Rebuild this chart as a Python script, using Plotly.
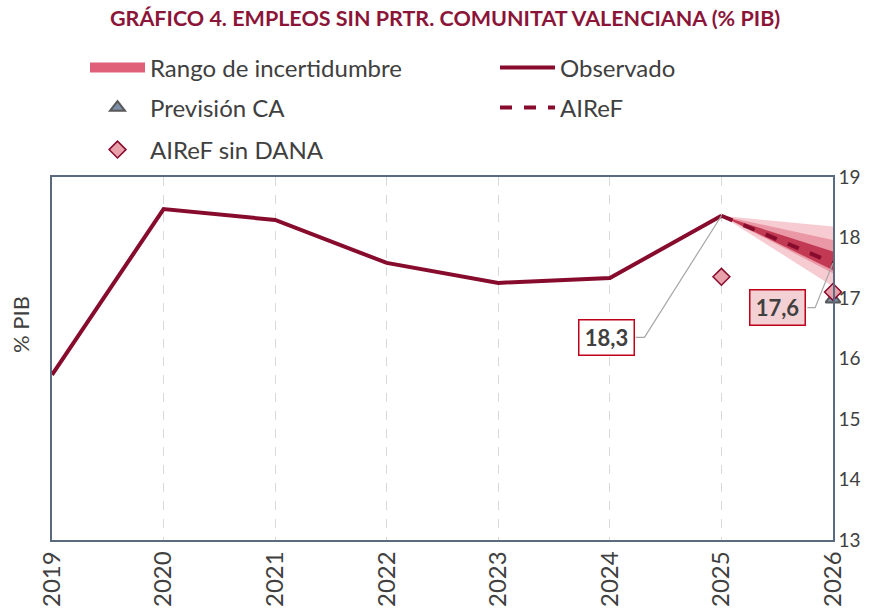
import plotly.graph_objects as go

years = [2019, 2020, 2021, 2022, 2023, 2024, 2025]
observado = [15.73, 18.47, 18.29, 17.58, 17.25, 17.33, 18.36]

airef_x = [2025, 2026]
airef = [18.36, 17.58]

# uncertainty bands at 2026 (start from 2025 observed)
band_outer = (17.19, 18.18)
band_mid = (17.41, 17.96)
band_inner = (17.46, 17.77)

prevision_x = [2026]
prevision = [16.98]

sin_dana_x = [2025, 2026]
sin_dana = [17.35, 17.1]

tick_years = list(range(2019, 2027))

dark_red = "#870b2d"
font_fam = "Lato, 'Open Sans', sans-serif"
txt = "#404040"

fig = go.Figure()

band_colors = ["rgba(240,170,180,0.6)", "rgba(225,110,130,0.55)", "rgba(180,25,55,0.75)"]
for (lo, hi), col in zip([band_outer, band_mid, band_inner], band_colors):
    fig.add_trace(go.Scatter(
        x=[2025, 2026, 2026, 2025], y=[airef[0], hi, lo, airef[0]],
        fill="toself", fillcolor=col, line=dict(width=0), mode="lines",
        showlegend=False, hoverinfo="skip"))

fig.add_trace(go.Scatter(x=[None], y=[None], mode="lines",
                         line=dict(color="#e0607a", width=11),
                         name="Rango de incertidumbre", legend="legend"))
fig.add_trace(go.Scatter(x=years, y=observado, mode="lines",
                         line=dict(color=dark_red, width=4),
                         name="Observado", legend="legend2"))
fig.add_trace(go.Scatter(x=airef_x, y=airef, mode="lines",
                         line=dict(color=dark_red, width=4, dash="dash"),
                         name="AIReF", legend="legend4"))
fig.add_trace(go.Scatter(x=prevision_x, y=prevision, mode="markers", cliponaxis=False,
                         marker=dict(symbol="triangle-up", size=13, color="#7d8ea8",
                                     line=dict(color="#595959", width=2)),
                         name="Previsión CA", legend="legend3"))
fig.add_trace(go.Scatter(x=sin_dana_x, y=sin_dana, mode="markers", cliponaxis=False,
                         marker=dict(symbol="diamond", size=13, color="#e8a0aa",
                                     line=dict(color=dark_red, width=1.5)),
                         name="AIReF sin DANA", legend="legend5"))

# leader lines
fig.add_shape(type="path", xref="x", yref="y",
              path=f"M 2024.23,16.35 L 2024.31,16.35 L {airef_x[0]},{airef[0]}",
              line=dict(color="#a6a6a6", width=1.2))
fig.add_shape(type="path", xref="x", yref="y",
              path=f"M 2025.77,16.84 L 2025.84,16.84 L {airef_x[1]},{airef[1]}",
              line=dict(color="#a6a6a6", width=1.2))

fig.add_annotation(x=2023.97, y=16.35, xref="x", yref="y", text="<b>18,3</b>",
                   showarrow=False, font=dict(family=font_fam, size=22, color=txt),
                   width=52, height=32, bgcolor="white", bordercolor="#c0001a",
                   borderwidth=1.5, borderpad=1)
fig.add_annotation(x=2025.5, y=16.84, xref="x", yref="y", text="<b>17,6</b>",
                   showarrow=False, font=dict(family=font_fam, size=22, color=txt),
                   width=52, height=32, bgcolor="#f2d0d4", bordercolor="#c0001a",
                   borderwidth=1.5, borderpad=1)

fig.add_annotation(x=(20 - 52) / 781, y=1 - (325 - 177) / 363, xref="paper", yref="paper",
                   xanchor="center", yanchor="middle", text="% PIB", textangle=-90,
                   showarrow=False, font=dict(family=font_fam, size=22, color=txt))
fig.add_annotation(x=(445 - 52) / 781, y=1 + (177 - 18) / 363, xref="paper", yref="paper",
                   text="<b>GRÁFICO 4. EMPLEOS SIN PRTR. COMUNITAT VALENCIANA (% PIB)</b>",
                   showarrow=False, xanchor="center", yanchor="middle",
                   font=dict(family=font_fam, size=21.5, color="#8b1538"))

def leg(xpx, ypx):
    return dict(orientation="h", xref="container", yref="container",
                x=xpx / 877, y=1 - ypx / 612, xanchor="left", yanchor="middle",
                itemwidth=55, font=dict(size=24, color=txt), bgcolor="rgba(0,0,0,0)")

fig.update_layout(
    width=877, height=612,
    margin=dict(l=52, r=44, t=177, b=72, autoexpand=False),
    paper_bgcolor="white", plot_bgcolor="white",
    font=dict(family=font_fam, color=txt),
    legend=leg(85, 68), legend2=leg(495, 68),
    legend3=leg(85, 108), legend4=leg(495, 108),
    legend5=leg(85, 150),
    xaxis=dict(range=[2019, 2026], tickvals=tick_years, ticktext=[str(y) for y in tick_years],
               tickangle=-90, tickfont=dict(size=24, color=txt), showgrid=True,
               gridcolor="#d9d9d9", griddash="dash", gridwidth=1,
               showline=True, linecolor="#5a6b80", linewidth=1.5, mirror=True,
               ticks="", zeroline=False, automargin=False),
    yaxis=dict(range=[13, 19], dtick=1, side="right", showgrid=False,
               tickfont=dict(size=19, color=txt), showline=True, linecolor="#5a6b80",
               linewidth=1.5, mirror=True, ticks="", zeroline=False, automargin=False),
)

fig.write_html("out.html", config={"displayModeBar": False},
               post_script="document.body.style.margin='0';")
